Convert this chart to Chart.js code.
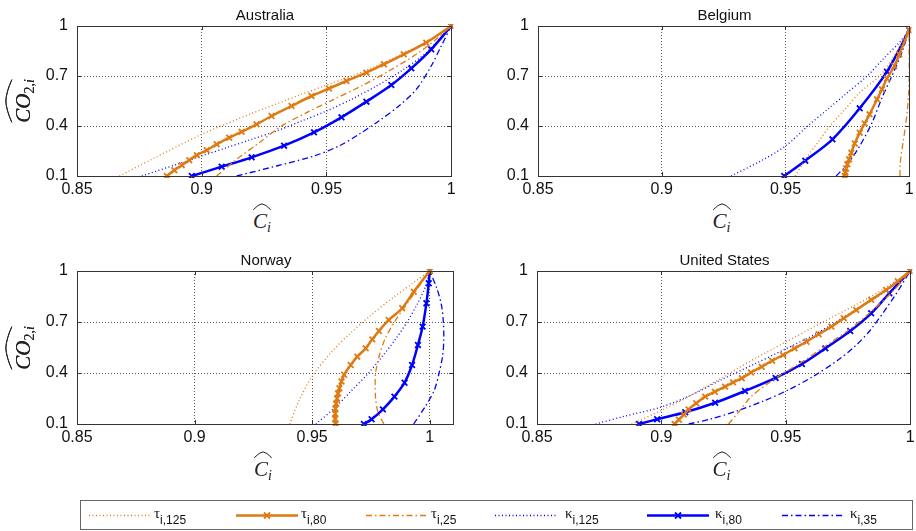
<!DOCTYPE html>
<html>
<head>
<meta charset="utf-8">
<script src="https://cdn.jsdelivr.net/npm/chart.js@4.4.0/dist/chart.umd.min.js"></script>
<style>
  html, body { margin: 0; padding: 0; background: #fff; overflow: hidden; }
  #page { position: relative; width: 916px; height: 531px; }
  canvas.plot { position: absolute; }
  .ttl { position: absolute; transform: translate(-50%, -50%); font: 15px 'Liberation Sans', Arial, sans-serif; color: #111; white-space: nowrap; }
  .ylab, .xlab { position: absolute; font: italic 21px 'Liberation Serif', 'Times New Roman', serif; color: #222; white-space: nowrap; }
  .ylab { transform: translate(-50%, -50%) rotate(-90deg); }
  .xlab { transform: translate(-50%, -50%); }
  .hat { position: relative; display: inline-block; }
  .hat svg { position: absolute; left: 0; top: -5px; width: 100%; height: 7px; overflow: visible; }
  .hat svg path { fill: none; stroke: #222; stroke-width: 1; vector-effect: non-scaling-stroke; }
  sub { font-size: 14px; vertical-align: -4px; line-height: 0; }
  sub .up { font-style: normal; }
  #legend { position: absolute; left: 80px; top: 500px; width: 831px; height: 28px; border: 1px solid #666; }
  #legend canvas { position: absolute; left: 0; top: 0; }
  .lg { position: absolute; top: 4px; font: 15px 'Liberation Serif', serif; color: #111; white-space: nowrap; }
  .lg sub { font: 12px 'Liberation Sans', Arial, sans-serif; vertical-align: -6px; }
</style>
</head>
<body>
<div id="page"></div>
<script>
// Axis ticks
const xTicks = [0.85, 0.9, 0.95, 1]
const yTicks = [0.1, 0.4, 0.7, 1]

// Panels
const countries = ['Australia', 'Belgium', 'Norway', 'United States']
const xMax = [1, 1, 1.01, 1]

// Series labels (greek letter, subscript)
const seriesLetter = ['τ', 'τ', 'τ', 'κ', 'κ', 'κ']
const seriesSub = ['i,125', 'i,80', 'i,25', 'i,125', 'i,80', 'i,35']

// Australia  [C_i, CO2_i]
const ausTau125 = [[0.867, 0.1], [0.88, 0.2], [0.9, 0.35], [0.92, 0.475], [0.94, 0.59], [0.95, 0.645], [0.96, 0.7], [0.97, 0.76], [0.98, 0.83], [0.99, 0.905], [1, 1]]
const ausTau80 = [[0.886, 0.1], [0.889, 0.135], [0.892, 0.165], [0.895, 0.195], [0.898, 0.225], [0.902, 0.255], [0.906, 0.29], [0.911, 0.33], [0.916, 0.365], [0.922, 0.41], [0.928, 0.46], [0.936, 0.52], [0.944, 0.58], [0.951, 0.625], [0.958, 0.67], [0.966, 0.72], [0.973, 0.77], [0.981, 0.83], [0.99, 0.9], [1, 1]]
const ausTau25 = [[0.906, 0.1], [0.914, 0.2], [0.923, 0.3], [0.932, 0.4], [0.942, 0.48], [0.953, 0.56], [0.964, 0.64], [0.975, 0.73], [0.986, 0.83], [0.994, 0.92], [1, 1]]
const ausKap125 = [[0.876, 0.1], [0.89, 0.17], [0.9, 0.22], [0.91, 0.27], [0.92, 0.32], [0.93, 0.37], [0.94, 0.43], [0.95, 0.49], [0.96, 0.56], [0.97, 0.64], [0.98, 0.73], [0.99, 0.84], [1, 1]]
const ausKap80 = [[0.896, 0.1], [0.908, 0.156], [0.92, 0.212], [0.933, 0.282], [0.945, 0.362], [0.956, 0.452], [0.966, 0.546], [0.976, 0.646], [0.984, 0.746], [0.992, 0.86], [1, 1]]
const ausKap35 = [[0.914, 0.1], [0.93, 0.16], [0.945, 0.22], [0.955, 0.28], [0.963, 0.35], [0.971, 0.43], [0.979, 0.52], [0.986, 0.62], [0.992, 0.76], [0.996, 0.88], [1, 1]]

// Belgium
const belTau125 = [[0.954, 0.1], [0.958, 0.2], [0.963, 0.3], [0.968, 0.4], [0.974, 0.5], [0.98, 0.6], [0.988, 0.7], [0.993, 0.8], [0.997, 0.9], [1, 0.975]]
const belTau80 = [[0.974, 0.1], [0.9742, 0.12], [0.9745, 0.145], [0.975, 0.17], [0.9757, 0.2], [0.9766, 0.24], [0.978, 0.295], [0.98, 0.36], [0.982, 0.415], [0.984, 0.47], [0.987, 0.56], [0.989, 0.62], [0.991, 0.685], [0.994, 0.76], [0.996, 0.83], [1, 0.975]]
const belTau25 = [[0.9963, 0.1], [0.9963, 0.16], [0.9967, 0.22], [0.9975, 0.3], [0.9985, 0.4], [0.9993, 0.5], [0.9998, 0.6], [1, 0.7], [1, 0.8], [1, 0.9], [1, 0.975]]
const belKap125 = [[0.928, 0.1], [0.94, 0.19], [0.95, 0.28], [0.959, 0.4], [0.967, 0.5], [0.975, 0.6], [0.983, 0.7], [0.99, 0.81], [0.996, 0.9], [1, 0.975]]
const belKap80 = [[0.9495, 0.1], [0.958, 0.192], [0.969, 0.32], [0.98, 0.506], [0.991, 0.726], [1, 0.975]]
const belKap35 = [[0.9705, 0.1], [0.975, 0.17], [0.98, 0.28], [0.985, 0.42], [0.989, 0.57], [0.993, 0.7], [0.997, 0.84], [1, 0.975]]

// Norway
const norTau125 = [[0.9405, 0.1], [0.9445, 0.24], [0.95, 0.38], [0.958, 0.52], [0.966, 0.63], [0.975, 0.74], [0.985, 0.85], [0.993, 0.93], [1, 1]]
const norTau80 = [[0.96, 0.1], [0.9598, 0.13], [0.9598, 0.16], [0.9599, 0.19], [0.9602, 0.22], [0.9606, 0.25], [0.961, 0.28], [0.9616, 0.31], [0.9625, 0.35], [0.9636, 0.39], [0.9664, 0.447], [0.9692, 0.496], [0.9728, 0.545], [0.9756, 0.598], [0.9784, 0.647], [0.9826, 0.712], [0.9883, 0.781], [0.9932, 0.878], [1, 1]]
const norTau25 = [[0.9805, 0.1], [0.978, 0.17], [0.977, 0.25], [0.9768, 0.33], [0.977, 0.4], [0.9785, 0.5], [0.981, 0.6], [0.985, 0.7], [0.99, 0.8], [0.995, 0.9], [1, 1]]
const norKap125 = [[0.9516, 0.1], [0.96, 0.2], [0.967, 0.3], [0.974, 0.4], [0.98, 0.5], [0.9855, 0.6], [0.9904, 0.7], [0.9945, 0.8], [0.998, 0.9], [1, 1]]
const norKap80 = [[0.972, 0.1], [0.9753, 0.128], [0.9801, 0.186], [0.985, 0.261], [0.9893, 0.343], [0.9925, 0.447], [0.995, 0.565], [0.997, 0.673], [0.9986, 0.81], [0.9996, 0.928], [1, 1]]
const norKap35 = [[0.9932, 0.1], [0.998, 0.2], [1.002, 0.3], [1.004, 0.4], [1.0055, 0.5], [1.006, 0.6], [1.0058, 0.7], [1.005, 0.8], [1.003, 0.9], [1, 1]]

// United States
const usaTau125 = [[0.888, 0.1], [0.9, 0.18], [0.912, 0.27], [0.924, 0.37], [0.937, 0.48], [0.951, 0.59], [0.965, 0.7], [0.978, 0.8], [0.99, 0.9], [1, 1]]
const usaTau80 = [[0.9053, 0.1], [0.907, 0.125], [0.909, 0.155], [0.9109, 0.186], [0.914, 0.222], [0.9176, 0.261], [0.9215, 0.29], [0.9256, 0.32], [0.9288, 0.345], [0.9323, 0.369], [0.936, 0.403], [0.9403, 0.437], [0.9445, 0.472], [0.9489, 0.506], [0.9535, 0.545], [0.9583, 0.584], [0.9632, 0.628], [0.9683, 0.673], [0.9733, 0.722], [0.9783, 0.771], [0.9843, 0.83], [0.9903, 0.888], [0.995, 0.94], [1, 1]]
const usaTau25 = [[0.927, 0.1], [0.931, 0.17], [0.936, 0.26], [0.942, 0.33], [0.948, 0.39], [0.956, 0.46], [0.965, 0.55], [0.975, 0.65], [0.985, 0.77], [0.993, 0.88], [1, 1]]
const usaKap125 = [[0.8736, 0.1], [0.885, 0.145], [0.9, 0.2], [0.912, 0.27], [0.924, 0.36], [0.937, 0.45], [0.949, 0.535], [0.962, 0.63], [0.978, 0.77], [0.99, 0.88], [1, 1]]
const usaKap80 = [[0.891, 0.1], [0.8983, 0.128], [0.9096, 0.169], [0.9216, 0.225], [0.9336, 0.294], [0.9459, 0.371], [0.9565, 0.453], [0.9659, 0.545], [0.9759, 0.647], [0.9843, 0.751], [0.9916, 0.869], [1, 1]]
const usaKap35 = [[0.911, 0.1], [0.92, 0.13], [0.931, 0.18], [0.941, 0.235], [0.951, 0.3], [0.961, 0.38], [0.971, 0.476], [0.978, 0.56], [0.984, 0.653], [0.9936, 0.849], [1, 1]]

const panelSeries = [
  [ausTau125, ausTau80, ausTau25, ausKap125, ausKap80, ausKap35],
  [belTau125, belTau80, belTau25, belKap125, belKap80, belKap35],
  [norTau125, norTau80, norTau25, norKap125, norKap80, norKap35],
  [usaTau125, usaTau80, usaTau25, usaKap125, usaKap80, usaKap35],
]

/*--------------------------------------------
  Styles / layout
---------------------------------------------*/
const ORANGE = '#DF7A12'
const BLUE = '#0000FF'
const styles = [
  { color: ORANGE, width: 1.3, dash: [1, 2.5], marker: false },
  { color: ORANGE, width: 2.5, dash: [], marker: true },
  { color: ORANGE, width: 1.3, dash: [6, 3, 1.5, 3], marker: false },
  { color: BLUE, width: 1.3, dash: [1, 2.5], marker: false },
  { color: BLUE, width: 2.5, dash: [], marker: true },
  { color: BLUE, width: 1.3, dash: [6, 3, 1.5, 3], marker: false },
]

// chart area of each panel in page pixels
const areas = [
  { l: 77, t: 26, r: 453, b: 176 },
  { l: 538, t: 26, r: 911, b: 176 },
  { l: 77, t: 271, r: 455, b: 424 },
  { l: 537, t: 271, r: 912, b: 424 },
]
const PAD_L = 70, PAD_T = 8, PAD_R = 4, PAD_B = 30

const page = document.getElementById('page')
const tickFont = { family: "'Liberation Sans', Arial, sans-serif", size: 16 }

// frame + inward tick marks like the original axes box
const boxPlugin = {
  id: 'box',
  afterDraw(chart) {
    const { ctx, chartArea: a, scales } = chart
    ctx.save()
    ctx.strokeStyle = '#333'
    ctx.lineWidth = 1
    ctx.setLineDash([])
    ctx.beginPath()
    xTicks.forEach((v) => {
      const px = Math.round(scales.x.getPixelForValue(v)) + 0.5
      ctx.moveTo(px, a.bottom); ctx.lineTo(px, a.bottom - 4)
      ctx.moveTo(px, a.top); ctx.lineTo(px, a.top + 4)
    })
    yTicks.forEach((v) => {
      const py = Math.round(scales.y.getPixelForValue(v)) + 0.5
      ctx.moveTo(a.left, py); ctx.lineTo(a.left + 4, py)
      ctx.moveTo(a.right, py); ctx.lineTo(a.right - 4, py)
    })
    ctx.stroke()
    ctx.strokeRect(Math.round(a.left) + 0.5, Math.round(a.top) + 0.5, Math.round(a.right - a.left), Math.round(a.bottom - a.top))
    ctx.restore()
  },
}

function hat(html) {
  return `<span class="hat">${html}<svg viewBox="0 0 100 10" preserveAspectRatio="none"><path d="M1,9 Q30,1 50,0.5 Q70,1 99,9"/></svg></span>`
}

function addText(cls, x, y, html) {
  const el = document.createElement('div')
  el.className = cls
  el.style.left = x + 'px'
  el.style.top = y + 'px'
  el.innerHTML = html
  page.appendChild(el)
}

countries.forEach((name, p) => {
  const a = areas[p]
  const canvas = document.createElement('canvas')
  canvas.className = 'plot'
  canvas.width = a.r - a.l + PAD_L + PAD_R
  canvas.height = a.b - a.t + PAD_T + PAD_B
  canvas.style.left = a.l - PAD_L + 'px'
  canvas.style.top = a.t - PAD_T + 'px'
  page.appendChild(canvas)

  const datasets = panelSeries[p].map((pts, i) => {
    const s = styles[i]
    return {
      label: seriesLetter[i] + seriesSub[i],
      data: pts.map(([x, y]) => ({ x, y })),
      showLine: true,
      borderColor: s.color,
      backgroundColor: s.color,
      borderWidth: s.width,
      borderDash: s.dash,
      tension: 0.3,
      pointStyle: 'crossRot',
      pointRadius: s.marker ? 4 : 0,
      pointBorderWidth: 1.8,
      pointBorderColor: s.color,
      clip: 2,
    }
  })

  new Chart(canvas, {
    type: 'scatter',
    data: { datasets },
    options: {
      responsive: false,
      animation: false,
      events: [],
      layout: { padding: { left: 0, top: PAD_T, right: PAD_R, bottom: 0 } },
      plugins: { legend: { display: false }, tooltip: { enabled: false } },
      scales: {
        x: {
          type: 'linear',
          min: 0.85,
          max: xMax[p],
          afterBuildTicks(scale) { scale.ticks = xTicks.map((v) => ({ value: v })) },
          afterFit(scale) { scale.height = PAD_B; scale.paddingLeft = 0; scale.paddingRight = 0 },
          ticks: { font: tickFont, color: '#111', padding: 4, maxRotation: 0, autoSkip: false, callback: (v) => String(+(+v).toFixed(2)) },
          grid: { color: '#555', lineWidth: 1, drawTicks: false },
          border: { display: true, color: '#333', dash: [1, 2] },
        },
        y: {
          type: 'linear',
          min: 0.1,
          max: 1,
          afterBuildTicks(scale) { scale.ticks = yTicks.map((v) => ({ value: v })) },
          afterFit(scale) { scale.width = PAD_L; scale.paddingTop = 0; scale.paddingBottom = 0 },
          ticks: { font: tickFont, color: '#111', padding: 9, autoSkip: false, callback: (v) => String(+(+v).toFixed(2)) },
          grid: { color: '#555', lineWidth: 1, drawTicks: false },
          border: { display: true, color: '#333', dash: [1, 2] },
        },
      },
    },
    plugins: [boxPlugin],
  })

  // title and axis labels
  const cx = (a.l + a.r) / 2
  addText('ttl', cx, a.t - 12, name)
  addText('ylab', 23, (a.t + a.b) / 2, hat('CO<sub><span class="up">2</span>,i</sub>'))
  addText('xlab', cx - 3, a.b + 45, hat('C<sub>i</sub>'))
})

/*--------------------------------------------
  Legend
---------------------------------------------*/
const legend = document.createElement('div')
legend.id = 'legend'
page.appendChild(legend)
const lgCanvas = document.createElement('canvas')
lgCanvas.width = 831
lgCanvas.height = 28
legend.appendChild(lgCanvas)
const lctx = lgCanvas.getContext('2d')

const lineStart = [8, 155, 285, 414, 566, 701]
const labelStart = [73, 220, 350, 484, 634, 769]
styles.forEach((s, i) => {
  const x1 = lineStart[i], x2 = x1 + 62, y = 14.5
  lctx.save()
  lctx.strokeStyle = s.color
  lctx.lineWidth = s.width
  lctx.setLineDash(s.dash)
  lctx.beginPath(); lctx.moveTo(x1, y); lctx.lineTo(x2, y); lctx.stroke()
  if (s.marker) {
    const m = (x1 + x2) / 2
    lctx.setLineDash([]); lctx.lineWidth = 1.8
    lctx.beginPath()
    lctx.moveTo(m - 3, y - 3); lctx.lineTo(m + 3, y + 3)
    lctx.moveTo(m - 3, y + 3); lctx.lineTo(m + 3, y - 3)
    lctx.stroke()
  }
  lctx.restore()

  const lab = document.createElement('div')
  lab.className = 'lg'
  lab.style.left = labelStart[i] + 'px'
  lab.innerHTML = `${seriesLetter[i]}<sub>${seriesSub[i]}</sub>`
  legend.appendChild(lab)
})
</script>
</body>
</html>
